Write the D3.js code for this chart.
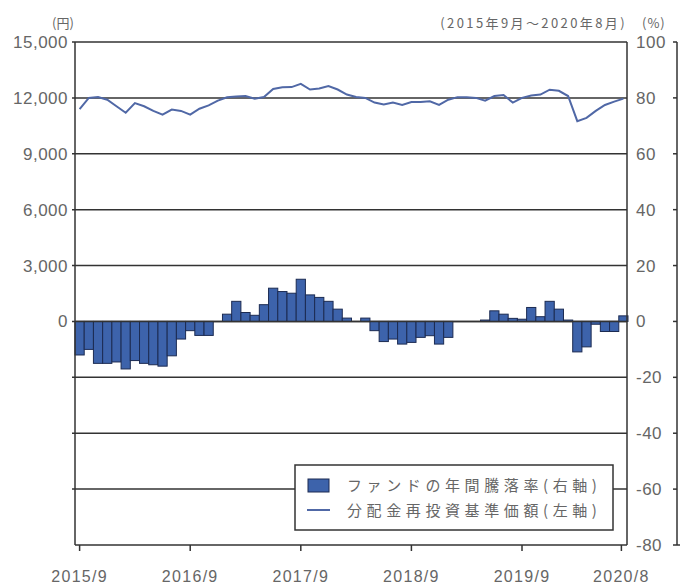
<!DOCTYPE html>
<html lang="ja">
<head>
<meta charset="UTF-8">
<title>ファンドの年間騰落率と分配金再投資基準価額</title>
<script src="https://d3js.org/d3.v7.min.js"></script>
<style>
  body { margin: 0; background: #fff; }
  svg text { font-family: "Liberation Sans", "Noto Sans CJK JP", sans-serif; fill: #666; }
  .jp { font-family: "Noto Sans CJK JP", sans-serif; }
</style>
</head>
<body>
<svg id="chart" width="680" height="588"></svg>
<script>
// months 2015/9 .. 2020/8
const months = d3.timeMonths(new Date(2015, 8, 1), new Date(2020, 8, 1));
const tickLabels = ["2015/9", "2016/9", "2017/9", "2018/9", "2019/9", "2020/8"];
const tickIndex = [0, 12, 24, 36, 48, 59];

// ファンドの年間騰落率 (%) right axis
const annualReturn = [
  -12, -10, -15, -15, -14.5, -17, -14, -15, -15.5, -16,
  -12.3, -6.3, -3.3, -5, -5, 0, 2.6, 7.2, 3.2, 2.2,
  6.0, 11.9, 10.7, 10.1, 15.1, 9.5, 8.6, 7.2, 4.4, 1.2,
  0, 1.2, -3.3, -7.2, -6.3, -8.1, -7.5, -5.7, -5.1, -8.1,
  -5.7, 0, 0, 0, 0.5, 3.8, 2.6, 1.1, 0.8, 5.0,
  1.7, 7.2, 4.4, 0.5, -10.9, -9.1, -1, -3.6, -3.6, 2.0
];

// 分配金再投資基準価額 (円) left axis
const navReinvested = [
  11400, 12000, 12050, 11900, 11550, 11200, 11720, 11550, 11300, 11100,
  11370, 11300, 11100, 11420, 11600, 11850, 12030, 12080, 12100, 11950,
  12050, 12480, 12570, 12580, 12750, 12450, 12500, 12630, 12450, 12180,
  12050, 12000, 11750, 11640, 11750, 11620, 11780, 11780, 11820, 11620,
  11900, 12040, 12030, 12000, 11850, 12100, 12150, 11750, 12000, 12130,
  12180, 12440, 12380, 12100, 10750, 10930, 11300, 11620, 11800, 11960
];

const leftTicks = [0, 3000, 6000, 9000, 12000, 15000];
const rightTicks = [100, 80, 60, 40, 20, 0, -20, -40, -60, -80];
const legendLabels = ["ファンドの年間騰落率(右軸)", "分配金再投資基準価額(左軸)"];

const plot = {left: 75, right: 627, top: 42, bottom: 545};

const svg = d3.select("#chart");

const x = d3.scaleBand()
    .domain(d3.range(months.length))
    .range([plot.left, plot.right + 1])
    .padding(0);

const yR = d3.scaleLinear().domain([-80, 100]).range([plot.bottom, plot.top]);
const yL = d3.scaleLinear().domain([0, 15000]).range([yR(0), yR(100)]);

// gridlines
svg.append("g")
  .selectAll("line")
  .data(rightTicks.filter(d => d > -80))
  .join("line")
    .attr("x1", plot.left - 3)
    .attr("x2", plot.right)
    .attr("y1", d => yR(d))
    .attr("y2", d => yR(d))
    .attr("stroke", "#333")
    .attr("stroke-width", 1.5);

// bars
svg.append("g")
  .selectAll("rect")
  .data(annualReturn)
  .join("rect")
    .attr("x", (d, i) => x(i))
    .attr("width", x.bandwidth())
    .attr("y", d => yR(Math.max(0, d)))
    .attr("height", d => Math.abs(yR(d) - yR(0)))
    .attr("fill", "#3d63ab")
    .attr("stroke", "#1c2b52")
    .attr("stroke-width", 1);

// zero line over the bars
svg.append("line")
    .attr("x1", plot.left).attr("x2", plot.right)
    .attr("y1", yR(0)).attr("y2", yR(0))
    .attr("stroke", "#333").attr("stroke-width", 1.5);

// line
const line = d3.line()
    .x((d, i) => x(i) + x.bandwidth() / 2)
    .y(d => yL(d));

svg.append("path")
    .datum(navReinvested)
    .attr("d", line)
    .attr("fill", "none")
    .attr("stroke", "#5068a6")
    .attr("stroke-width", 2);

// frame: left, right, bottom
svg.append("line")
    .attr("x1", plot.left).attr("x2", plot.left)
    .attr("y1", plot.top).attr("y2", plot.bottom)
    .attr("stroke", "#333").attr("stroke-width", 1.5);
svg.append("line")
    .attr("x1", plot.right).attr("x2", plot.right)
    .attr("y1", plot.top).attr("y2", plot.bottom)
    .attr("stroke", "#333").attr("stroke-width", 1.5);
svg.append("line")
    .attr("x1", plot.left).attr("x2", plot.right)
    .attr("y1", plot.bottom).attr("y2", plot.bottom)
    .attr("stroke", "#333").attr("stroke-width", 1.5);

// x ticks and labels
const xt = svg.append("g")
  .selectAll("g")
  .data(tickIndex)
  .join("g")
    .attr("transform", (d, i) => `translate(${x(d) + x.bandwidth() / 2 - (i === 5 ? 2 : 0)},0)`);
xt.append("line")
    .attr("y1", plot.bottom).attr("y2", plot.bottom + 6)
    .attr("stroke", "#333").attr("stroke-width", 1.5);
xt.append("text")
    .attr("y", 582)
    .attr("text-anchor", "middle")
    .attr("font-size", 16)
    .attr("letter-spacing", 1.3)
    .text((d, i) => tickLabels[i]);

// left labels
svg.append("g")
  .selectAll("text")
  .data(leftTicks)
  .join("text")
    .attr("x", 68)
    .attr("y", d => yL(d) + 6)
    .attr("text-anchor", "end")
    .attr("font-size", 17)
    .attr("letter-spacing", 0.5)
    .text(d => d3.format(",")(d));

// right labels
svg.append("g")
  .selectAll("text")
  .data(rightTicks)
  .join("text")
    .attr("x", 636)
    .attr("y", d => yR(d) + 6)
    .attr("font-size", 17)
    .attr("letter-spacing", 0.5)
    .text(d => d);

// edge of the neighbouring panel
svg.append("line")
    .attr("x1", 677).attr("x2", 677)
    .attr("y1", plot.top).attr("y2", plot.bottom)
    .attr("stroke", "#333").attr("stroke-width", 1.5);
svg.append("g")
  .selectAll("line")
  .data(rightTicks)
  .join("line")
    .attr("x1", 673).attr("x2", d => d === -80 ? 680 : 677)
    .attr("y1", d => yR(d)).attr("y2", d => yR(d))
    .attr("stroke", "#333").attr("stroke-width", 1.5);

// unit labels
svg.append("text").attr("class", "jp")
    .attr("x", 52).attr("y", 28)
    .attr("font-size", 13)
    .text("(円)");
svg.append("text").attr("class", "jp")
    .attr("x", 627).attr("y", 28)
    .attr("text-anchor", "end")
    .attr("font-size", 13)
    .attr("letter-spacing", 2.4)
    .text("(2015年9月～2020年8月)");
svg.append("text").attr("class", "jp")
    .attr("x", 642).attr("y", 28)
    .attr("font-size", 13)
    .attr("letter-spacing", 1)
    .text("(%)");

// legend
const lg = svg.append("g");
lg.append("rect")
    .attr("x", 295).attr("y", 465)
    .attr("width", 318).attr("height", 65)
    .attr("fill", "#fff")
    .attr("stroke", "#333").attr("stroke-width", 1.5);
lg.append("rect")
    .attr("x", 308).attr("y", 479)
    .attr("width", 21).attr("height", 13)
    .attr("fill", "#3d63ab").attr("stroke", "#1c2b52");
lg.append("line")
    .attr("x1", 307).attr("x2", 330)
    .attr("y1", 510).attr("y2", 510)
    .attr("stroke", "#5068a6").attr("stroke-width", 2);
lg.selectAll("text.lab")
  .data(legendLabels)
  .join("text")
    .attr("class", "lab jp")
    .attr("x", 347)
    .attr("y", (d, i) => 491 + i * 25)
    .attr("font-size", 15)
    .attr("letter-spacing", 4.6)
    .text(d => d);
</script>
</body>
</html>
